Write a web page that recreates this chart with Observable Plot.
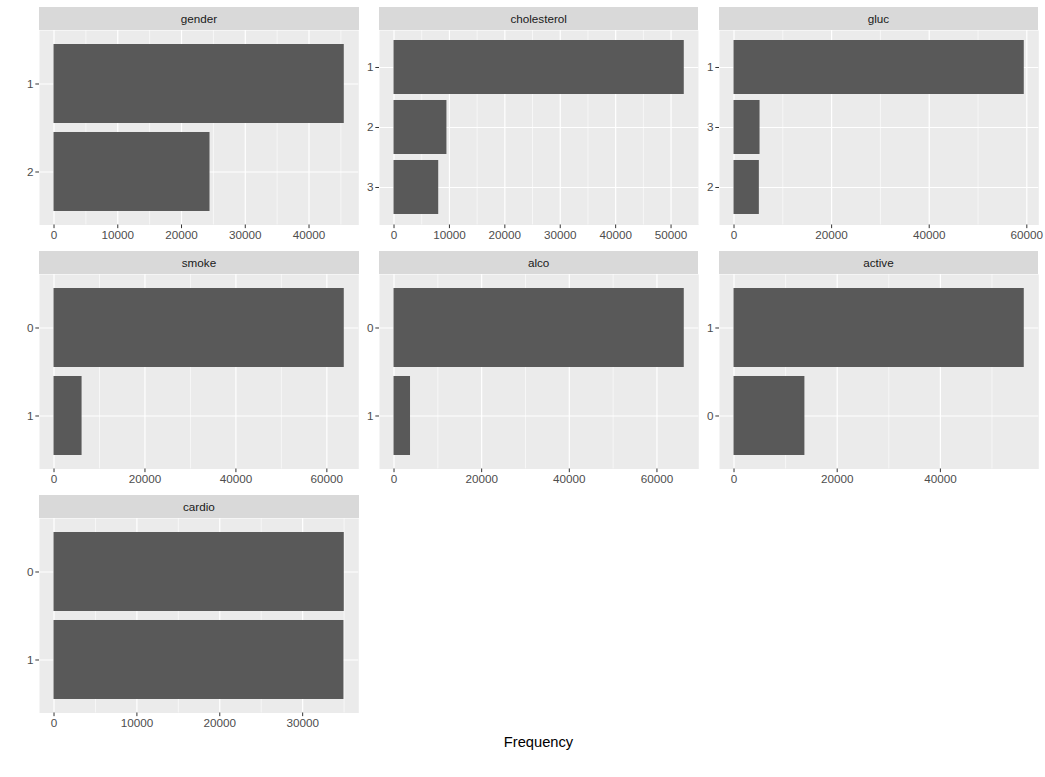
<!DOCTYPE html>
<html><head><meta charset="utf-8">
<script src="https://cdn.jsdelivr.net/npm/d3@7"></script>
<script src="https://cdn.jsdelivr.net/npm/@observablehq/plot@0.6"></script>
<style>
body{margin:0;background:#fff;font-family:"Liberation Sans",Arial,sans-serif;}
#chart{position:relative;width:1045px;height:777px;overflow:hidden;}
.strip{position:absolute;background:#d9d9d9;color:#1a1a1a;font-size:11.7px;text-align:center;height:23px;line-height:23px;}
.panel{position:absolute;}
.panel svg{overflow:visible;max-width:none !important;}
#xtitle{position:absolute;left:0;width:1077px;top:734px;text-align:center;font-size:14.7px;line-height:17px;color:#000;}
</style>
</head>
<body>
<div id="chart"><div id="xtitle">Frequency</div></div>
<script>
// ---- data (counts per level, ordered as drawn top to bottom) ----
const facetNames = ["gender", "cholesterol", "gluc", "smoke", "alco", "active", "cardio"];

const genderLevels = ["1", "2"];
const genderCounts = [45530, 24470];
const genderTicks = [0, 10000, 20000, 30000, 40000];

const cholesterolLevels = ["1", "2", "3"];
const cholesterolCounts = [52385, 9549, 8066];
const cholesterolTicks = [0, 10000, 20000, 30000, 40000, 50000];

const glucLevels = ["1", "3", "2"];
const glucCounts = [59479, 5331, 5190];
const glucTicks = [0, 20000, 40000, 60000];

const smokeLevels = ["0", "1"];
const smokeCounts = [63831, 6169];
const smokeTicks = [0, 20000, 40000, 60000];

const alcoLevels = ["0", "1"];
const alcoCounts = [66236, 3764];
const alcoTicks = [0, 20000, 40000, 60000];

const activeLevels = ["1", "0"];
const activeCounts = [56261, 13739];
const activeTicks = [0, 20000, 40000];

const cardioLevels = ["0", "1"];
const cardioCounts = [35021, 34979];
const cardioTicks = [0, 10000, 20000, 30000];

const facets = [
  [genderLevels, genderCounts, genderTicks],
  [cholesterolLevels, cholesterolCounts, cholesterolTicks],
  [glucLevels, glucCounts, glucTicks],
  [smokeLevels, smokeCounts, smokeTicks],
  [alcoLevels, alcoCounts, alcoTicks],
  [activeLevels, activeCounts, activeTicks],
  [cardioLevels, cardioCounts, cardioTicks]
];

// ---- layout ----
const colLeft = [39.3, 379, 718.8];
const stripTop = [7, 251, 495];
const PW = 319.3, PH = 194.5, SH = 23;
const ML = 30, MR = 12, MB = 24;
const chart = document.getElementById("chart");

facets.forEach(([levels, counts, ticks], i) => {
  const col = i % 3, row = Math.floor(i / 3);
  const left = colLeft[col], top = stripTop[row];

  const strip = document.createElement("div");
  strip.className = "strip";
  strip.style.left = left + "px";
  strip.style.top = top + "px";
  strip.style.width = PW + "px";
  strip.textContent = facetNames[i];
  chart.appendChild(strip);

  const data = levels.map((l, k) => ({level: l, count: counts[k]}));
  const max = d3.max(counts);
  const domain = [-0.05 * max, 1.05 * max];
  const step = ticks[1] - ticks[0];
  const minors = [];
  for (let v = ticks[0] - step / 2; v <= domain[1]; v += step) if (v >= domain[0]) minors.push(v);

  const svg = Plot.plot({
    width: ML + PW + MR,
    height: PH + MB,
    marginLeft: ML, marginRight: MR, marginTop: 0, marginBottom: MB,
    style: {fontFamily: '"Liberation Sans", Arial, sans-serif', fontSize: "11.7px", overflow: "visible", background: "transparent", maxWidth: "none"},
    x: {domain},
    y: {type: "band", domain: levels, paddingInner: 0.1, paddingOuter: 0.15},
    marks: [
      Plot.frame({fill: "#ebebeb", stroke: "none"}),
      Plot.gridX(minors, {stroke: "white", strokeOpacity: 1, strokeWidth: 0.6}),
      Plot.gridX(ticks, {stroke: "white", strokeOpacity: 1, strokeWidth: 1.2}),
      Plot.gridY({stroke: "white", strokeOpacity: 1, strokeWidth: 1.2}),
      Plot.barX(data, {x: "count", y: "level", fill: "#595959"}),
      Plot.axisX(ticks, {tickSize: 3.67, tickPadding: 2.2, stroke: "#333333", fill: "#4d4d4d", tickFormat: d3.format("d"), label: null}),
      Plot.axisY({tickSize: 3.67, tickPadding: 2.2, stroke: "#333333", fill: "#4d4d4d", label: null})
    ]
  });
  const wrap = document.createElement("div");
  wrap.className = "panel";
  wrap.style.left = (left - ML) + "px";
  wrap.style.top = (top + SH) + "px";
  wrap.style.width = (ML + PW + MR) + "px";
  wrap.appendChild(svg);
  chart.appendChild(wrap);
});
</script>
</body></html>
